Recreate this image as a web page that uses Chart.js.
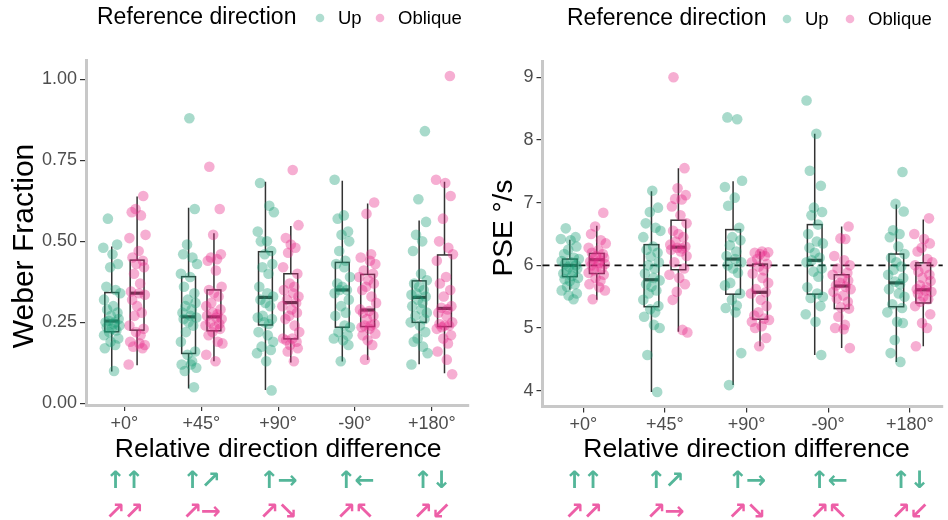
<!DOCTYPE html>
<html>
<head>
<meta charset="utf-8">
<script src="https://cdn.jsdelivr.net/npm/chart.js@4.4.0/dist/chart.umd.min.js"></script>
<style>
  body { margin: 0; background: #fff; width: 948px; height: 520px; overflow: hidden; }
  .panel { position: absolute; top: 0; width: 474px; height: 520px; }
</style>
</head>
<body>
<div class="panel" style="left:0"><canvas id="weber-chart" width="474" height="520"></canvas></div>
<div class="panel" style="left:474px"><canvas id="pse-chart" width="474" height="520"></canvas></div>
<script>
// --- DATA ---
const CATEGORIES = ['+0°', '+45°', '+90°', '-90°', '+180°'];
const UP_ARROWS = ['↑↑', '↑↗', '↑→', '↑←', '↑↓'];
const OBLIQUE_ARROWS = ['↗↗', '↗→', '↗↘', '↗↖', '↗↙'];
const WEBER_TICKS = [0, 0.25, 0.5, 0.75, 1];
const PSE_TICKS = [4, 5, 6, 7, 8, 9];

// individual observations, one list per direction difference
const WEBER_UP = [
  [0.57, 0.49, 0.48, 0.46, 0.43, 0.42, 0.36, 0.35, 0.34, 0.32, 0.30, 0.29, 0.28, 0.27, 0.26, 0.255, 0.25, 0.25, 0.245, 0.24, 0.235, 0.23, 0.225, 0.22, 0.21, 0.20, 0.19, 0.18, 0.17, 0.10],
  [0.88, 0.60, 0.49, 0.46, 0.45, 0.43, 0.40, 0.39, 0.36, 0.34, 0.32, 0.31, 0.30, 0.29, 0.28, 0.27, 0.265, 0.26, 0.25, 0.24, 0.22, 0.19, 0.16, 0.15, 0.13, 0.12, 0.12, 0.11, 0.10, 0.05],
  [0.68, 0.61, 0.59, 0.53, 0.50, 0.50, 0.47, 0.46, 0.43, 0.42, 0.40, 0.36, 0.34, 0.33, 0.32, 0.31, 0.30, 0.27, 0.265, 0.26, 0.25, 0.245, 0.22, 0.21, 0.19, 0.175, 0.165, 0.155, 0.13, 0.04],
  [0.69, 0.58, 0.57, 0.53, 0.52, 0.50, 0.47, 0.44, 0.43, 0.42, 0.39, 0.37, 0.36, 0.35, 0.35, 0.34, 0.32, 0.30, 0.28, 0.27, 0.24, 0.235, 0.22, 0.21, 0.20, 0.195, 0.18, 0.13],
  [0.84, 0.63, 0.56, 0.52, 0.50, 0.47, 0.40, 0.38, 0.37, 0.36, 0.35, 0.34, 0.335, 0.33, 0.32, 0.31, 0.30, 0.29, 0.28, 0.27, 0.26, 0.25, 0.24, 0.22, 0.20, 0.19, 0.175, 0.155, 0.12]
];
const WEBER_OBLIQUE = [
  [0.64, 0.60, 0.59, 0.58, 0.52, 0.51, 0.47, 0.45, 0.44, 0.43, 0.42, 0.40, 0.37, 0.345, 0.34, 0.335, 0.32, 0.30, 0.28, 0.27, 0.24, 0.23, 0.22, 0.21, 0.19, 0.185, 0.18, 0.175, 0.17, 0.12],
  [0.73, 0.60, 0.52, 0.46, 0.45, 0.445, 0.44, 0.41, 0.36, 0.35, 0.34, 0.33, 0.31, 0.30, 0.29, 0.28, 0.275, 0.27, 0.265, 0.26, 0.25, 0.245, 0.24, 0.235, 0.23, 0.22, 0.21, 0.19, 0.185, 0.15, 0.13],
  [0.72, 0.55, 0.51, 0.49, 0.48, 0.465, 0.42, 0.40, 0.37, 0.36, 0.35, 0.34, 0.33, 0.32, 0.31, 0.30, 0.29, 0.28, 0.27, 0.26, 0.24, 0.22, 0.20, 0.20, 0.195, 0.19, 0.18, 0.17, 0.16, 0.13],
  [0.62, 0.585, 0.46, 0.45, 0.44, 0.43, 0.41, 0.40, 0.39, 0.38, 0.37, 0.36, 0.35, 0.33, 0.31, 0.29, 0.285, 0.28, 0.27, 0.26, 0.245, 0.24, 0.24, 0.235, 0.23, 0.215, 0.21, 0.195, 0.18, 0.135],
  [1.01, 0.69, 0.68, 0.64, 0.57, 0.50, 0.48, 0.46, 0.44, 0.39, 0.37, 0.35, 0.33, 0.30, 0.295, 0.29, 0.28, 0.27, 0.25, 0.245, 0.24, 0.24, 0.235, 0.23, 0.21, 0.20, 0.185, 0.16, 0.135, 0.09]
];
const PSE_UP = [
  [6.59, 6.45, 6.42, 6.40, 6.30, 6.25, 6.18, 6.12, 6.10, 6.07, 6.05, 6.02, 6.0, 5.98, 5.95, 5.92, 5.90, 5.87, 5.83, 5.80, 5.78, 5.75, 5.70, 5.66, 5.60, 5.55, 5.52, 5.46],
  [7.19, 6.92, 6.85, 6.67, 6.60, 6.55, 6.45, 6.30, 6.25, 6.20, 6.14, 6.05, 6.0, 5.95, 5.87, 5.80, 5.76, 5.70, 5.66, 5.60, 5.55, 5.45, 5.35, 5.30, 5.25, 5.18, 5.05, 5.0, 4.57, 3.98],
  [8.36, 8.33, 7.35, 7.25, 7.08, 6.95, 6.60, 6.45, 6.40, 6.32, 6.22, 6.15, 6.10, 6.05, 6.0, 5.95, 5.88, 5.72, 5.68, 5.55, 5.45, 5.36, 5.32, 5.25, 4.60, 4.09],
  [8.63, 8.10, 7.51, 7.27, 6.92, 6.85, 6.80, 6.65, 6.50, 6.38, 6.35, 6.28, 6.20, 6.12, 6.08, 6.05, 5.95, 5.90, 5.82, 5.65, 5.55, 5.50, 5.48, 5.35, 5.22, 5.10, 4.57],
  [7.49, 6.98, 6.86, 6.56, 6.50, 6.45, 6.30, 6.18, 6.12, 6.05, 5.98, 5.93, 5.85, 5.80, 5.74, 5.70, 5.62, 5.55, 5.50, 5.38, 5.32, 5.25, 5.10, 5.08, 4.81, 4.60, 4.46]
];
const PSE_OBLIQUE = [
  [6.84, 6.62, 6.50, 6.40, 6.35, 6.28, 6.24, 6.20, 6.18, 6.15, 6.12, 6.10, 6.08, 6.06, 6.04, 6.02, 6.0, 5.97, 5.95, 5.92, 5.88, 5.85, 5.80, 5.75, 5.70, 5.65, 5.60, 5.46],
  [9.0, 7.55, 7.23, 7.12, 7.06, 7.05, 6.94, 6.80, 6.67, 6.55, 6.50, 6.45, 6.38, 6.33, 6.30, 6.28, 6.27, 6.25, 6.22, 6.15, 6.05, 5.95, 5.85, 5.80, 5.70, 5.58, 5.45, 4.97, 4.93],
  [6.22, 6.21, 6.20, 6.18, 6.15, 6.10, 6.05, 6.02, 5.98, 5.92, 5.87, 5.80, 5.72, 5.62, 5.57, 5.55, 5.45, 5.35, 5.25, 5.20, 5.15, 5.13, 5.10, 5.03, 5.0, 4.84, 4.71],
  [6.62, 6.43, 6.42, 6.15, 6.08, 6.0, 5.95, 5.88, 5.85, 5.80, 5.76, 5.72, 5.68, 5.66, 5.62, 5.58, 5.52, 5.47, 5.42, 5.33, 5.31, 5.18, 5.05, 5.0, 4.98, 4.68],
  [6.75, 6.50, 6.42, 6.35, 6.28, 6.22, 6.10, 6.05, 6.0, 5.95, 5.90, 5.85, 5.80, 5.75, 5.68, 5.65, 5.62, 5.60, 5.58, 5.55, 5.50, 5.46, 5.42, 5.35, 5.22, 5.08, 5.0, 4.71]
];

// box summaries: [lower whisker, Q1, median, Q3, upper whisker]
const WEBER_UP_BOX = [
  [0.098, 0.221, 0.254, 0.342, 0.484],
  [0.046, 0.154, 0.267, 0.391, 0.604],
  [0.041, 0.242, 0.327, 0.468, 0.684],
  [0.129, 0.235, 0.350, 0.435, 0.687],
  [0.121, 0.250, 0.327, 0.378, 0.564]
];
const WEBER_OBLIQUE_BOX = [
  [0.118, 0.226, 0.340, 0.442, 0.638],
  [0.130, 0.224, 0.267, 0.350, 0.525],
  [0.126, 0.199, 0.311, 0.400, 0.547],
  [0.134, 0.237, 0.288, 0.398, 0.617],
  [0.093, 0.237, 0.293, 0.458, 0.684]
];
const PSE_UP_BOX = [
  [5.61, 5.82, 6.00, 6.10, 6.41],
  [3.98, 5.34, 5.77, 6.33, 7.18],
  [4.09, 5.54, 6.10, 6.57, 7.34],
  [4.57, 5.54, 6.08, 6.65, 8.10],
  [4.46, 5.34, 5.72, 6.18, 6.97]
];
const PSE_OBLIQUE_BOX = [
  [5.45, 5.87, 6.09, 6.19, 6.63],
  [4.94, 5.93, 6.29, 6.72, 7.55],
  [4.71, 5.14, 5.57, 6.02, 6.22],
  [4.68, 5.31, 5.67, 5.85, 6.62],
  [4.71, 5.40, 5.61, 6.04, 6.73]
];

// --- STYLE ---
const UP_RGB = '27,158,119';
const OBLIQUE_RGB = '231,41,138';
const DODGE = 0.165;
const BOX_WIDTH = 0.18;
// fixed horizontal spread for the jittered points (category units)
const JITTER = [-0.09, 0.03, 0.10, -0.05, 0.07, -0.11, 0.01, 0.08, -0.02, -0.07, 0.05, 0.11, -0.10, 0.02, -0.06, 0.075, -0.01, 0.09, -0.04, 0.04, -0.08, 0.025, 0.10, -0.065, 0.00, 0.06, -0.035, -0.10, 0.085, -0.015, 0.045];
const FONT = '"Liberation Sans", Arial, sans-serif';

Chart.defaults.font.family = FONT;

function toPoints(groups, offset, shift) {
  const pts = [];
  groups.forEach((vals, i) => {
    vals.forEach((v, k) => {
      pts.push({ x: i + 1 + offset + JITTER[(k + shift * (i + 1)) % JITTER.length], y: v });
    });
  });
  return pts;
}

function decorPlugin(cfg) {
  return {
    id: 'decor',
    beforeDatasetsDraw(chart) {
      const { ctx, scales: { x, y } } = chart;
      const half = (x.getPixelForValue(BOX_WIDTH) - x.getPixelForValue(0)) / 2;
      ctx.save();
      ctx.strokeStyle = '#333333';
      [[cfg.upBox, -DODGE], [cfg.obliqueBox, DODGE]].forEach(([boxes, off]) => {
        boxes.forEach((b, i) => {
          const cx = x.getPixelForValue(i + 1 + off);
          const [lo, q1, med, q3, hi] = b.map(v => y.getPixelForValue(v));
          ctx.lineWidth = 1.5;
          ctx.beginPath();
          ctx.moveTo(cx, hi); ctx.lineTo(cx, q3);
          ctx.moveTo(cx, q1); ctx.lineTo(cx, lo);
          ctx.stroke();
          ctx.strokeRect(cx - half, q3, half * 2, q1 - q3);
          ctx.lineWidth = 3.2;
          ctx.beginPath();
          ctx.moveTo(cx - half, med); ctx.lineTo(cx + half, med);
          ctx.stroke();
        });
      });
      if (cfg.refLine !== undefined) {
        const ry = y.getPixelForValue(cfg.refLine);
        ctx.strokeStyle = '#111';
        ctx.lineWidth = 1.6;
        ctx.setLineDash([7, 5]);
        ctx.beginPath();
        ctx.moveTo(chart.chartArea.left, ry);
        ctx.lineTo(chart.chartArea.right, ry);
        ctx.stroke();
      }
      ctx.restore();
    },
    afterDraw(chart) {
      const { ctx, scales: { x } } = chart;
      ctx.save();
      // y title
      ctx.fillStyle = '#000';
      ctx.textAlign = 'center';
      ctx.textBaseline = 'alphabetic';
      ctx.font = cfg.yTitleSize + 'px ' + FONT;
      ctx.translate(cfg.yTitleX, cfg.yTitleY);
      ctx.rotate(-Math.PI / 2);
      ctx.fillText(cfg.yTitle, 0, 0);
      ctx.setTransform(1, 0, 0, 1, 0, 0);
      // x title
      ctx.font = '26.5px ' + FONT;
      ctx.fillText('Relative direction difference', x.getPixelForValue(3), 457);
      // legend
      const lg = cfg.legend;
      ctx.textAlign = 'left';
      ctx.textBaseline = 'middle';
      ctx.font = '23px ' + FONT;
      ctx.fillText('Reference direction', lg.title, lg.y);
      ctx.font = '18.5px ' + FONT;
      [[lg.up, 'Up', UP_RGB], [lg.oblique, 'Oblique', OBLIQUE_RGB]].forEach(([px, label, rgb]) => {
        ctx.fillStyle = 'rgba(' + rgb + ',0.35)';
        ctx.beginPath();
        ctx.arc(px, lg.y, 4.3, 0, Math.PI * 2);
        ctx.fill();
        ctx.fillStyle = '#000';
        ctx.fillText(label, px + 18, lg.y + 1);
      });
      // direction arrows under each category
      ctx.textAlign = 'center';
      ctx.font = 'bold 24px "DejaVu Sans"';
      [[UP_ARROWS, UP_RGB, 482], [OBLIQUE_ARROWS, OBLIQUE_RGB, 513]].forEach(([rows, rgb, ay]) => {
        ctx.fillStyle = 'rgba(' + rgb + ',0.75)';
        rows.forEach((pair, i) => {
          const cx = x.getPixelForValue(i + 1);
          Array.from(pair).forEach((g, k) => ctx.fillText(g, cx + (k ? 9.5 : -9), ay));
        });
      });
      ctx.restore();
    }
  };
}

function makeChart(id, cfg) {
  const tickGrid = { drawOnChartArea: false, tickLength: 6, color: '#333333', lineWidth: 1.2 };
  const axisBorder = { color: '#c8c8c8', width: 3 };
  return new Chart(document.getElementById(id), {
    type: 'scatter',
    data: {
      datasets: [
        { label: 'Up', data: toPoints(cfg.up, -DODGE, 3), backgroundColor: 'rgba(' + UP_RGB + ',0.38)', borderWidth: 0, pointRadius: 5.3 },
        { label: 'Oblique', data: toPoints(cfg.oblique, DODGE, 7), backgroundColor: 'rgba(' + OBLIQUE_RGB + ',0.38)', borderWidth: 0, pointRadius: 5.3 }
      ]
    },
    options: {
      responsive: false,
      animation: false,
      events: [],
      layout: { padding: { top: cfg.top, right: cfg.right, bottom: 50, left: 0 } },
      plugins: { legend: { display: false }, tooltip: { enabled: false } },
      scales: {
        x: {
          type: 'linear', min: 0.5, max: cfg.xMax,
          afterFit: s => { s.height = cfg.xHeight; },
          afterBuildTicks: s => { s.ticks = CATEGORIES.map((c, i) => ({ value: i + 1 })); },
          ticks: { callback: (v, i) => CATEGORIES[i], color: '#4d4d4d', font: { size: 18 }, padding: 2, maxRotation: 0, autoSkip: false },
          grid: tickGrid, border: axisBorder
        },
        y: {
          min: cfg.yMin, max: cfg.yMax,
          afterFit: s => { s.width = cfg.yWidth; },
          afterBuildTicks: s => { s.ticks = cfg.yTicks.map(v => ({ value: v })); },
          ticks: { callback: cfg.fmt, color: '#4d4d4d', font: { size: 18 }, padding: 3 },
          grid: tickGrid, border: axisBorder
        }
      }
    },
    plugins: [decorPlugin(cfg)]
  });
}

makeChart('weber-chart', {
  up: WEBER_UP, oblique: WEBER_OBLIQUE, upBox: WEBER_UP_BOX, obliqueBox: WEBER_OBLIQUE_BOX,
  yMin: -0.005, yMax: 1.058, yTicks: WEBER_TICKS, fmt: v => v.toFixed(2),
  xMax: 5.48, top: 60.5, right: 2, xHeight: 65, yWidth: 86,
  yTitle: 'Weber Fraction', yTitleSize: 30, yTitleX: 33, yTitleY: 246,
  legend: { title: 97, up: 320, oblique: 380, y: 18 }
});

makeChart('pse-chart', {
  up: PSE_UP, oblique: PSE_OBLIQUE, upBox: PSE_UP_BOX, obliqueBox: PSE_OBLIQUE_BOX,
  yMin: 3.75, yMax: 9.25, yTicks: PSE_TICKS, fmt: v => String(v), refLine: 6,
  xMax: 5.403, top: 61.6, right: 0, xHeight: 63.6, yWidth: 68.5,
  yTitle: 'PSE °/s', yTitleSize: 28, yTitleX: 37.5, yTitleY: 228,
  legend: { title: 93, up: 313, oblique: 376, y: 19 }
});
</script>
</body>
</html>
